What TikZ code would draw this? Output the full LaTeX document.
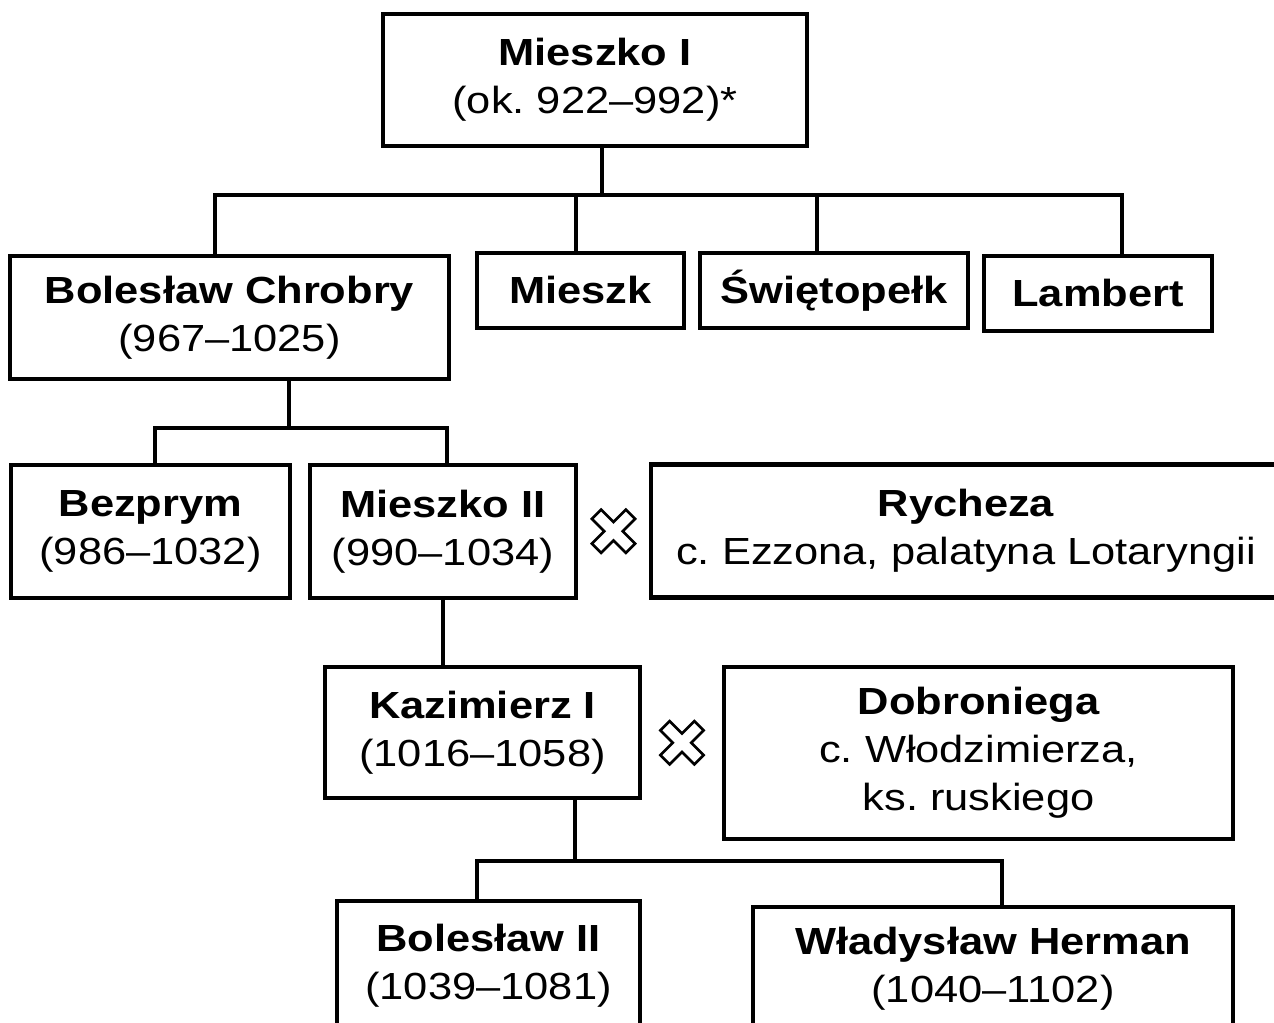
\documentclass[tikz,border=0pt]{standalone}
\usepackage{fontspec}
\setmainfont{Liberation Sans}[FakeStretch=1.15]
\usetikzlibrary{calc}

\begin{document}
\frenchspacing
\begin{tikzpicture}[x=0.02cm, y=-0.02cm,
    osoba/.style={draw, line width=2.4pt, align=center, inner sep=0pt,
      font=\fontsize{21.5}{27.3}\selectfont},
    linia/.style={line width=2pt},
    pics/slub/.style={code={
      \draw[line width=1.5pt, fill=white, rotate=45]
        (6.5,6.5) -- (6.5,24) -- (-6.5,24) -- (-6.5,6.5) -- (-24,6.5) -- (-24,-6.5)
        -- (-6.5,-6.5) -- (-6.5,-24) -- (6.5,-24) -- (6.5,-6.5) -- (24,-6.5) -- (24,6.5) -- cycle;
    }}]
        \useasboundingbox (0,0) rectangle (1274,1023);
        \clip (0,0) rectangle (1274,1023);
        % pokolenie I
        \node[osoba, minimum width=8.48cm, minimum height=2.64cm] (mieszkoI) at (595,80) {\bfseries Mieszko I\\(ok. 922–992)*};
        % pokolenie II
        \node[osoba, minimum width=8.78cm, minimum height=2.46cm] (chrobry) at (229.5,317.5) {\bfseries Bolesław Chrobry\\(967–1025)};
        \node[osoba, minimum width=4.14cm, minimum height=1.5cm] (mieszk) at (580.5,290.5) {\bfseries Mieszk};
        \node[osoba, minimum width=5.36cm, minimum height=1.5cm] (swietopelk) at (834,290.5) {\bfseries Świętopełk};
        \node[osoba, minimum width=4.56cm, minimum height=1.5cm] (lambert) at (1098,293.5) {\bfseries Lambert};
        % pokolenie III
        \node[osoba, minimum width=5.58cm, minimum height=2.66cm] (bezprym) at (150.5,531.5) {\bfseries Bezprym\\(986–1032)};
        \node[osoba, minimum width=5.32cm, minimum height=2.66cm] (mieszkoII) at (443,531.5) {\bfseries Mieszko II\\(990–1034)};
        \node[osoba, minimum width=12.6cm, minimum height=2.66cm] (rycheza) at (966,531) {\bfseries Rycheza\\c. Ezzona, palatyna Lotaryngii};
        % pokolenie IV
        \node[osoba, minimum width=6.3cm, minimum height=2.62cm] (kazimierz) at (482.5,732.5) {\bfseries Kazimierz I\\(1016–1058)};
        \node[osoba, minimum width=10.18cm, minimum height=3.44cm] (dobroniega) at (978.5,753) {\bfseries Dobroniega\\c. Włodzimierza,\\ks. ruskiego};
        % pokolenie V
        \node[osoba, minimum width=6.06cm, minimum height=2.6cm] (boleslawII) at (488.5,966) {\bfseries Bolesław II\\(1039–1081)};
        \node[osoba, minimum width=9.6cm, minimum height=2.48cm] (wladyslaw) at (993,969) {\bfseries Władysław Herman\\(1040–1102)};

        % linie
        \coordinate (s1) at (602,195);
        \draw[linia] (mieszkoI.south -| s1) -- (s1);
        \draw[linia] (chrobry.north -| 215,0) |- (s1);
        \draw[linia] (mieszk.north -| 576,0) |- (s1);
        \draw[linia] (swietopelk.north -| 817,0) |- (s1);
        \draw[linia] (lambert.north -| 1122,0) |- (s1);
        \coordinate (s2) at (289,428);
        \draw[linia] (chrobry.south -| s2) -- (s2);
        \draw[linia] (bezprym.north -| 155,0) |- (s2);
        \draw[linia] (mieszkoII.north -| 447,0) |- (s2);
        \draw[linia] (mieszkoII.south) -- (mieszkoII.south |- kazimierz.north);
        \coordinate (s3) at (575,861);
        \draw[linia] (kazimierz.south -| s3) -- (s3);
        \draw[linia] (boleslawII.north -| 477,0) |- (s3);
        \draw[linia] (wladyslaw.north -| 1002,0) |- (s3);

        % malzenstwa
        \pic at ($(mieszkoII.east)!0.5!(rycheza.west)$) {slub};
        \pic at ($(kazimierz.east)!0.5!(dobroniega.west)$) {slub};
     \end{tikzpicture}
\end{document}
